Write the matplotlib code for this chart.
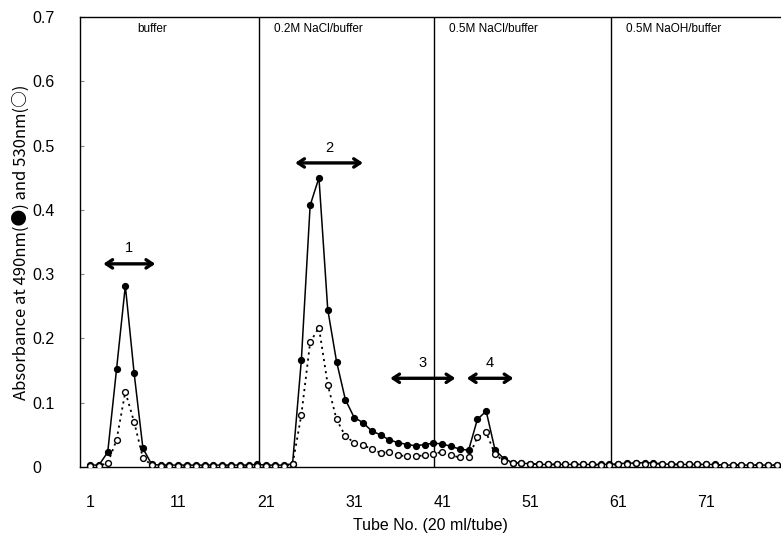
import matplotlib
matplotlib.use('Agg')
import numpy as np
import matplotlib.pyplot as plt

plt.rcParams['font.family'] = ['Liberation Sans', 'Noto Sans CJK JP', 'DejaVu Sans']

# tube numbers 1..80
tubes = np.arange(1, 81)

# absorbance at 490 nm (filled circles)
abs490 = [0.003, 0.003, 0.023, 0.152, 0.282, 0.146, 0.029, 0.004, 0.003, 0.003,
          0.003, 0.003, 0.003, 0.003, 0.003, 0.003, 0.003, 0.003, 0.003, 0.004,
          0.003, 0.003, 0.003, 0.005, 0.166, 0.407, 0.450, 0.245, 0.164, 0.105,
          0.077, 0.069, 0.056, 0.050, 0.042, 0.038, 0.035, 0.033, 0.035, 0.037,
          0.036, 0.032, 0.028, 0.026, 0.074, 0.087, 0.027, 0.013, 0.007, 0.006,
          0.005, 0.004, 0.004, 0.004, 0.004, 0.004, 0.004, 0.004, 0.004, 0.004,
          0.005, 0.006, 0.006, 0.007, 0.006, 0.005, 0.004, 0.004, 0.004, 0.004,
          0.004, 0.004, 0.003, 0.003, 0.003, 0.003, 0.003, 0.003, 0.003, 0.003]

# absorbance at 530 nm (open circles)
abs530 = [0.002, 0.002, 0.006, 0.042, 0.117, 0.070, 0.014, 0.003, 0.002, 0.002,
          0.002, 0.002, 0.002, 0.002, 0.002, 0.002, 0.002, 0.002, 0.002, 0.002,
          0.002, 0.002, 0.002, 0.004, 0.081, 0.194, 0.217, 0.128, 0.074, 0.048,
          0.038, 0.034, 0.028, 0.022, 0.023, 0.018, 0.017, 0.017, 0.018, 0.021,
          0.023, 0.018, 0.015, 0.015, 0.046, 0.054, 0.020, 0.009, 0.007, 0.006,
          0.005, 0.004, 0.004, 0.004, 0.004, 0.004, 0.004, 0.004, 0.003, 0.003,
          0.004, 0.005, 0.006, 0.005, 0.005, 0.005, 0.004, 0.004, 0.004, 0.004,
          0.004, 0.003, 0.003, 0.003, 0.003, 0.003, 0.003, 0.003, 0.003, 0.003]

# eluent steps
step_edges = [20.2, 40.1, 60.2]
step_names = ['buffer', '0.2M NaCl/buffer', '0.5M NaCl/buffer', '0.5M NaOH/buffer']

# pooled fractions (start tube, end tube, label)
pool_ranges = [(2.5, 8.4), (24.3, 32.0), (35.1, 42.5), (43.8, 49.1)]
pool_names = ['1', '2', '3', '4']

fig = plt.figure(figsize=(7.81, 5.40), dpi=100)
ax = fig.add_axes([80/781, 73/540, 1 - 80/781, 450/540])

ax.plot(tubes, abs490, linestyle='-', color='black', lw=1.1,
        marker='o', markersize=4.2, markerfacecolor='black',
        markeredgecolor='black', zorder=3)
ax.plot(tubes, abs530, linestyle=(0, (1.2, 2.2)), color='black', lw=1.3,
        marker='o', markersize=4.2, markerfacecolor='white',
        markeredgecolor='black', markeredgewidth=1.0, zorder=4)

for xe in step_edges:
    ax.axvline(xe, color='black', lw=1.0, zorder=2)

ax.text(8.0, 0.681, step_names[0], ha='center', va='center', fontsize=8.5)
for xe, name in zip(step_edges, step_names[1:]):
    ax.text(xe + 1.7, 0.681, name, ha='left', va='center', fontsize=8.5)

arrow_y = [0.316, 0.473, 0.138, 0.138]
for (x1, x2), name, yy in zip(pool_ranges, pool_names, arrow_y):
    ax.annotate('', xy=(x2, yy), xytext=(x1, yy),
                arrowprops=dict(arrowstyle='<->,head_length=0.45,head_width=0.3',
                                lw=2.4, color='black', shrinkA=0, shrinkB=0))
    ax.text((x1 + x2) / 2, yy + 0.013, name, ha='center', va='bottom', fontsize=10.5)

ax.set_xlim(-0.15, 79.5)
ax.set_ylim(0, 0.7)
ax.set_xticks([1, 11, 21, 31, 41, 51, 61, 71])
ax.set_yticks(np.arange(0, 0.71, 0.1))
ax.set_yticklabels(['0', '0.1', '0.2', '0.3', '0.4', '0.5', '0.6', '0.7'])
ax.tick_params(axis='x', length=0, pad=20, labelsize=11.5)
ax.tick_params(axis='y', direction='in', length=3, color='#888888', pad=34, labelsize=11.5)
for lab in ax.get_yticklabels():
    lab.set_horizontalalignment('left')

ax.spines['right'].set_visible(False)
for s in ['left', 'bottom', 'top']:
    ax.spines[s].set_linewidth(1.0)

ax.set_xlabel('Tube No. (20 ml/tube)', fontsize=11.5, labelpad=6)
ax.set_ylabel('Absorbance at 490nm(●) and 530nm(○)', fontsize=12,
              family=['Noto Sans CJK JP', 'DejaVu Sans'])
ax.yaxis.set_label_coords(-50/701, 0.5)

fig.savefig('out.png', dpi=100)
